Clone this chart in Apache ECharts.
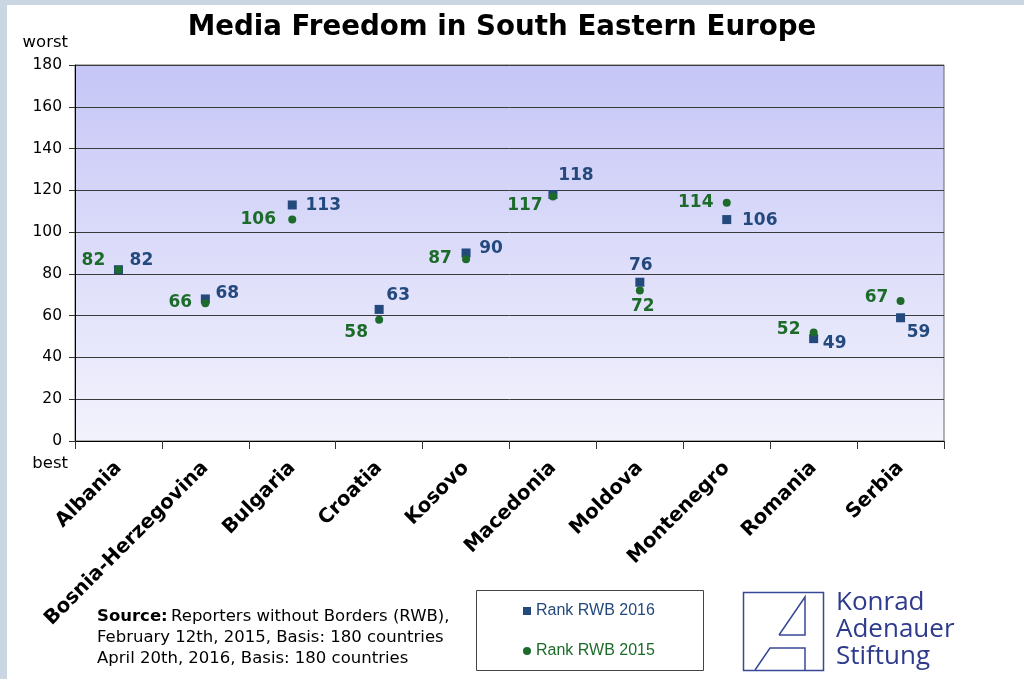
<!DOCTYPE html>
<html>
<head>
<meta charset="utf-8">
<script src="https://cdn.jsdelivr.net/npm/echarts@6/dist/echarts.min.js"></script>
<style>
html,body{margin:0;padding:0;background:#fff;}
#chart{width:1024px;height:679px;}
</style>
</head>
<body>
<div id="chart"></div>
<script>
// ---- data ----
const categories = ['Albania','Bosnia-Herzegovina','Bulgaria','Croatia','Kosovo','Macedonia','Moldova','Montenegro','Romania','Serbia'];
const rank2016 = [82, 68, 113, 63, 90, 118, 76, 106, 49, 59];
const rank2015 = [82, 66, 106, 58, 87, 117, 72, 114, 52, 67];
const yTicks = [0, 20, 40, 60, 80, 100, 120, 140, 160, 180];
const seriesNames = ['Rank RWB 2016', 'Rank RWB 2015'];

// ---- label placement (style only) ----
const offsets2016 = [[23,-9],[22,-5],[31,1],[19,-14],[25,-4],[23,-19],[1,-17],[33,1],[21,5],[18,15]];
const offsets2015 = [[-25,-9],[-25,-1],[-34,0],[-23,13],[-26,-1],[-28,9],[3,16],[-31,0],[-25,-3],[-24,-3]];

const BLUE = '#23497d';
const GREEN = '#1d6b2b';
const labelFont = {fontFamily:'DejaVu Sans', fontWeight:'bold', fontSize:17};

const chart = echarts.init(document.getElementById('chart'), null, {renderer:'canvas'});

function buildData(vals, offs){
  return vals.map((v,i)=>({value:v, label:{offset:offs[i]}}));
}

const option = {
  animation:false,
  backgroundColor:'#ffffff',
  grid:{
    left:75, right:80, top:65, bottom:238,
    show:true,
    borderColor:'#666', borderWidth:1,
    backgroundColor:{type:'linear',x:0,y:0,x2:0,y2:1,colorStops:[{offset:0,color:'#c6c6f7'},{offset:1,color:'#f3f3fd'}]}
  },
  legend:{
    orient:'vertical', left:518, top:598, itemWidth:8, itemHeight:8, itemGap:24,
    textStyle:{fontFamily:'Liberation Sans', fontSize:16},
    data:[
      {name:seriesNames[0], icon:'rect', textStyle:{color:BLUE}},
      {name:seriesNames[1], icon:'circle', textStyle:{color:GREEN}}
    ]
  },
  xAxis:{
    type:'category', data:categories, boundaryGap:true,
    axisLine:{lineStyle:{color:'#000',width:1}},
    axisTick:{show:true, length:8, lineStyle:{color:'#333'}},
    axisLabel:{rotate:45, margin:24, color:'#000', fontFamily:'DejaVu Sans', fontWeight:'bold', fontSize:19.8, interval:0},
    splitLine:{show:false}
  },
  yAxis:{
    type:'value', min:yTicks[0], max:yTicks[yTicks.length-1], interval:yTicks[1]-yTicks[0],
    axisLine:{show:true, lineStyle:{color:'#000',width:1}},
    axisTick:{show:true, length:6, lineStyle:{color:'#333'}},
    axisLabel:{margin:13, color:'#000', fontFamily:'DejaVu Sans', fontSize:15.5},
    splitLine:{show:true, lineStyle:{color:'#3a3a3a', width:1}}
  },
  series:[
    {
      name:seriesNames[0], type:'scatter', symbol:'rect', symbolSize:9, z:3,
      itemStyle:{color:BLUE, opacity:1},
      label:{show:true, position:'inside', color:BLUE, ...labelFont},
      data:buildData(rank2016, offsets2016)
    },
    {
      name:seriesNames[1], type:'scatter', symbol:'circle', symbolSize:8, z:4,
      itemStyle:{color:GREEN, opacity:1},
      label:{show:true, position:'inside', color:GREEN, ...labelFont},
      data:buildData(rank2015, offsets2015)
    }
  ],
  graphic:[
    {type:'rect', left:0, top:0, shape:{width:1024, height:5}, style:{fill:'#cbd6e3'}, silent:true},
    {type:'rect', left:0, top:0, shape:{width:7, height:679}, style:{fill:'#cbd6e3'}, silent:true},
    {type:'text', x:502, y:28, style:{text:'Media Freedom in South Eastern Europe', fill:'#000', font:'bold 27.7px "DejaVu Sans"', textAlign:'center', textVerticalAlign:'middle'}},
    {type:'text', x:68, y:43, style:{text:'worst', fill:'#000', font:'16.5px "DejaVu Sans"', textAlign:'right', textVerticalAlign:'middle'}},
    {type:'text', x:68, y:464, style:{text:'best', fill:'#000', font:'16.5px "DejaVu Sans"', textAlign:'right', textVerticalAlign:'middle'}},
    {type:'text', x:97, y:606, style:{
      text:'{b|Source:} {n|Reporters without Borders (RWB),}\n{n|February 12th, 2015, Basis: 180 countries}\n{n|April 20th, 2016, Basis: 180 countries}',
      fill:'#000',
      rich:{
        b:{fontFamily:'DejaVu Sans', fontWeight:'bold', fontSize:16.5, lineHeight:21, fill:'#000'},
        n:{fontFamily:'DejaVu Sans', fontSize:16.5, lineHeight:21, fill:'#000'}
      }
    }},
    {type:'rect', shape:{x:476.5, y:590.5, width:227, height:80}, style:{fill:'none', stroke:'#444', lineWidth:1}, z:-1},
    {type:'rect', shape:{x:743.5, y:592.5, width:80, height:78}, style:{fill:'none', stroke:'#3a4796', lineWidth:1.5}},
    {type:'polyline', shape:{points:[[779,635],[805,597],[805,635],[779,635]]}, style:{fill:'none', stroke:'#3a4796', lineWidth:1.5}},
    {type:'polyline', shape:{points:[[755,670],[770,648],[805,648],[805,670]]}, style:{fill:'none', stroke:'#3a4796', lineWidth:1.5}},
    {type:'text', x:836, y:603, style:{text:'Konrad', fill:'#2e3a8c', font:'26px "Open Sans"', textVerticalAlign:'middle'}},
    {type:'text', x:836, y:630, style:{text:'Adenauer', fill:'#2e3a8c', font:'26px "Open Sans"', textVerticalAlign:'middle'}},
    {type:'text', x:836, y:657, style:{text:'Stiftung', fill:'#2e3a8c', font:'26px "Open Sans"', textVerticalAlign:'middle'}}
  ]
};
chart.setOption(option);
</script>
</body>
</html>
